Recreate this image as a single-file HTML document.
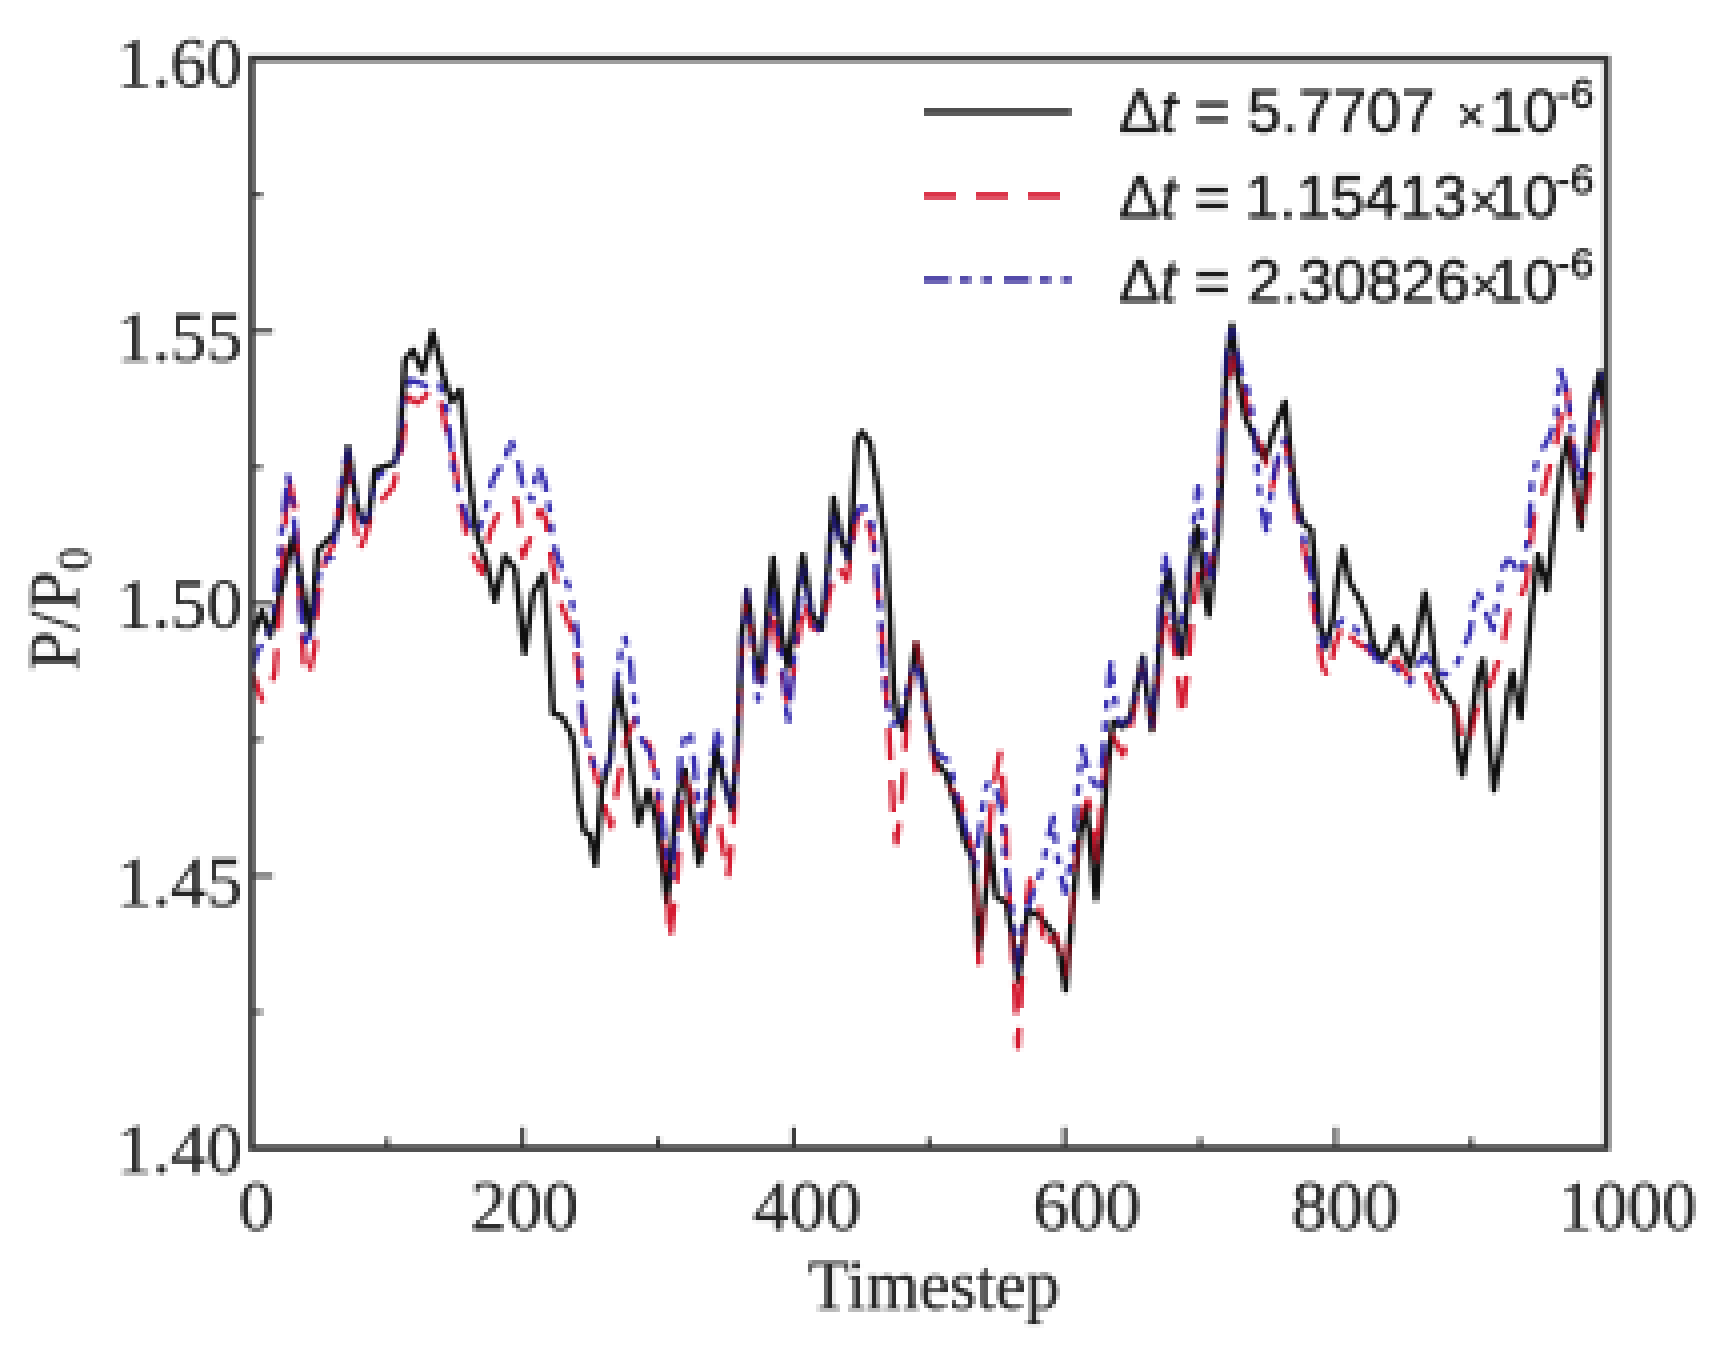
<!DOCTYPE html>
<html lang="en"><head><meta charset="utf-8"><title>P/P0 versus Timestep</title>
<style>
html,body{margin:0;padding:0;background:#fff;}
body{width:1724px;height:1348px;overflow:hidden;}
svg{display:block;}
.ser{font-family:"Liberation Serif","Times New Roman",serif;fill:#262626;stroke:#262626;stroke-width:0.6;}
.san{font-family:"Liberation Sans",Arial,sans-serif;fill:#1c1c1c;stroke:#1c1c1c;stroke-width:0.9;}
.crv{fill:none;stroke-linejoin:round;stroke-linecap:butt;}
</style></head><body>
<svg width="1724" height="1348" viewBox="0 0 1724 1348">
<defs><filter id="soft" x="0" y="0" width="1724" height="1348" filterUnits="userSpaceOnUse" primitiveUnits="userSpaceOnUse" color-interpolation-filters="sRGB">
<feConvolveMatrix in="SourceGraphic" order="4" kernelMatrix="1 1 1 1 1 1 1 1 1 1 1 1 1 1 1 1" divisor="16" targetX="3" targetY="3" edgeMode="duplicate" preserveAlpha="false" result="b"/>
<feFlood x="0" y="0" width="1" height="4" flood-color="rgb(217,0,0)" result="c0"/>
<feFlood x="1" y="0" width="1" height="4" flood-color="rgb(185,0,0)" result="c1"/>
<feFlood x="2" y="0" width="1" height="4" flood-color="rgb(153,0,0)" result="c2"/>
<feFlood x="3" y="0" width="1" height="4" flood-color="rgb(121,0,0)" result="c3"/>
<feMerge x="0" y="0" width="4" height="4" result="cx"><feMergeNode in="c0"/><feMergeNode in="c1"/><feMergeNode in="c2"/><feMergeNode in="c3"/></feMerge>
<feFlood x="0" y="0" width="4" height="1" flood-color="rgb(0,217,0)" result="r0"/>
<feFlood x="0" y="1" width="4" height="1" flood-color="rgb(0,185,0)" result="r1"/>
<feFlood x="0" y="2" width="4" height="1" flood-color="rgb(0,153,0)" result="r2"/>
<feFlood x="0" y="3" width="4" height="1" flood-color="rgb(0,121,0)" result="r3"/>
<feMerge x="0" y="0" width="4" height="4" result="cy"><feMergeNode in="r0"/><feMergeNode in="r1"/><feMergeNode in="r2"/><feMergeNode in="r3"/></feMerge>
<feComposite in="cx" in2="cy" operator="arithmetic" k1="0" k2="1" k3="1" k4="0" x="0" y="0" width="4" height="4" result="cell"/>
<feTile in="cell" x="0" y="0" width="1724" height="1348" result="map"/>
<feDisplacementMap in="b" in2="map" scale="8" xChannelSelector="R" yChannelSelector="G"/>
</filter></defs>
<rect x="0" y="0" width="1724" height="1348" fill="#ffffff"/>
<g filter="url(#soft)">
<g class="crv">
<polyline stroke="#101010" stroke-width="5.8" points="252,637 262,611 270,636 277,607 293,537 302,585 310,632 318,550 335,533 341,518 348,447 357,505 362,520 368,522 375,470 395,463 400,440 405,360 413,350 423,372 432.5,332 443,375 451.5,401.5 460,390 466.5,457 476.5,533 486.5,563 495,601 505,556 515,569 524.5,653 533,593 543.5,574 548,633 553,713 562,717 571,733 574,745 579,800 584,831 590,835 595.5,865 602,787 610,760 618,683 628,740 638.5,824 648,790 656.5,820 663,868 667,902 671,860 677,800 685,770 692,820 699,864 708,813 716,748 724,782 732,810 738,740 741.5,640 747,590 755,650 761.5,681 767,617 773,558 781.5,633 788,667 796.5,600 803,555 811.5,613 821.5,629 828,567 833.5,498 841.5,540 848.5,560 853,500 857,440 862,432 870,443 877,483 885,543 890,618 893.5,686 897,716 903,729 910,684 916,643 923,680 930,727 935,760 946,774 957,808 965,842 973,860 977,920 979,950 986.5,885 988.5,835 996.5,897 1006.5,903 1013,940 1018,980 1028,910 1040,917 1053,933 1060,953 1065.5,990 1073,903 1080,833 1086.5,807 1096,899 1103,825 1108,765 1113,722 1123,727 1131,715 1138,681 1143,657 1148,700 1152,730 1158,670 1162,610 1166,580 1169.5,571 1173,600 1177,635 1181.5,656 1186,620 1190,570 1194,538 1197,527 1201,560 1205,595 1208.7,615 1214,570 1218,535 1221.7,475 1224,420 1227,360 1232,325 1238,377 1245,417 1256.5,443 1265,460 1273,433 1285,402 1290,450 1296.5,500 1303,523 1311.5,530 1316.5,583 1320,627 1326.5,647 1333,617 1338,577 1343,548 1350,583 1360,600 1366.5,617 1373,643 1383,660 1390,647 1396.5,627 1403,650 1410,667 1418,633 1425,593 1431.5,633 1436.5,677 1448,697 1455,707 1458,747 1462.5,775 1470,727 1478,677 1483,660 1488,727 1494,790 1501.5,747 1508,693 1512.5,672 1520.5,718 1526.5,660 1531.5,610 1538,555 1547,590 1553,535 1561.5,467 1568,437 1575,485 1581,528 1587,460 1593,400 1600,372 1606,430"/>
<polyline stroke="#d00820" stroke-opacity="0.92" stroke-width="5.6" stroke-dasharray="32 20" points="252,672 262,700 270,690 275,672 279,620 283,560 288,476 295,507 300,600 305,677 310,670 315,647 318,593 325,560 333,545 340,500 347,460 353,513 359,552 365,537 372,513 382,500 393,487 400,460 404,430 408,397 417,403 424,398 430,390 440,397 447,433 452,447 460,500 468,543 475,560 482,573 490,532 500,510 508,500 517,500 523,557 532,533 540,510 546,520 552,563 562,607 573,633 578,667 582,710 586,740 590,753 597,780 603,800 611,827 618,783 626,740 634,720 642,735 650,747 657,790 663,837 668,903 670,940 676.5,887 680,837 683.5,777 690,790 697,830 704,850 712,800 720,828 728,877 733,830 738,745 742,650 747,592 755,667 761.5,683 767,640 772,607 780,660 788,710 796.5,650 804,600 811.5,627 821.5,632 830,590 836.5,567 842,572 847,580 852,545 857,517 863,507 873,540 877,583 882,633 886,690 890,750 893,808 896.5,843 901.5,800 905,750 908,700 916,643 923,683 930,730 937,780 948,785 960,800 967,830 973,853 977,913 979,963 983,920 987,870 990,820 995,780 1000,753 1005,807 1007,870 1013,953 1016,1010 1018,1047 1020,1010 1023,953 1027,900 1030,880 1035,895 1040,910 1045,950 1050,940 1056,935 1062,960 1066,975 1070,930 1077,853 1083,810 1088,800 1093,820 1097,860 1102,800 1107,753 1112,735 1123,755 1130,730 1138,690 1143,665 1148,700 1153,727 1158,680 1163,630 1168,610 1173,640 1177,665 1182,718 1187,675 1192,620 1200,560 1207,575 1213,557 1218,510 1222,450 1227,400 1233,357 1238,375 1243,383 1250,423 1257,440 1263,450 1272,488 1278,460 1285,440 1291,470 1297,517 1303,543 1310,580 1317,633 1323,667 1328,677 1335,645 1343,623 1350,635 1357,643 1367,648 1377,660 1387,665 1397,660 1407,675 1415,680 1425,670 1433,690 1440,707 1450,705 1455,705 1462,740 1468,745 1475,715 1483,690 1490,685 1497,665 1503,645 1510,605 1520,600 1527,580 1531,540 1535,510 1543,493 1550,465 1557,440 1562,410 1567,390 1572,450 1577,500 1583,522 1588,490 1593,460 1598,420 1603,400 1606,410"/>
<polyline stroke="#261ca8" stroke-opacity="0.92" stroke-width="5.6" stroke-dasharray="26 10 11 11 10 12" points="252,668 258,650 265,640 273,620 278,570 283,520 288,476 293,507 298,570 303,633 308,647 314,610 320,567 326,560 332,557 338,515 343,473 348,450 353,480 357,507 363,523 369,515 375,480 385,470 395,462 400,447 403,400 410,380 420,383 430,388 440,385 447,410 453,467 460,497 470,527 477,533 483,520 488,500 492,482 498,470 505,463 510,438 517,457 523,487 532,500 538,465 545,483 550,513 553,543 563,573 570,590 577,633 580,667 582,717 585,733 590,750 596,772 603,775 610,760 614,720 617,680 621,650 625,638 630,660 633,690 637,725 643,742 650,752 656,771 661,810 666,850 672,877 677,820 681,750 686,735 690,730 694,760 699,810 703,835 708,790 712,760 718,728 723,770 728,795 732,810 736,770 739,700 742,640 747,590 752,640 758,700 763,680 768,620 772,587 777,620 783,665 788,725 793,670 798,610 803,565 808,595 813,622 821,632 827,580 833,517 841,540 848,557 854,520 860,508 865,507 873,527 877,577 880,610 882,650 885,690 892,725 900,720 907,690 915,660 921,680 927,715 933,750 942,757 950,762 957,800 963,820 970,847 975,870 980,830 985,790 990,780 996,790 1002,810 1005,860 1009,890 1013,920 1018,970 1022,930 1027,910 1034,890 1042,870 1048,840 1053,817 1058,860 1065,893 1069,870 1073,853 1077,800 1082,747 1090,777 1100,793 1104,740 1108,690 1111,663 1115,700 1120,725 1130,720 1137,685 1143,660 1148,700 1152,725 1157,670 1161,600 1165,553 1170,590 1174,625 1178,647 1184,610 1190,560 1195,510 1198,487 1202,520 1207,560 1212,583 1217,530 1222,430 1227,350 1232,323 1238,360 1244,380 1250,397 1255,440 1260,497 1264,520 1267,533 1270,500 1274,475 1278,457 1285,440 1290,470 1293,493 1300,520 1305,545 1310,567 1316,610 1323,647 1330,635 1337,625 1343,620 1355,628 1365,640 1377,660 1390,662 1403,677 1410,683 1418,665 1425,655 1435,670 1445,675 1455,668 1463,650 1470,633 1474,605 1477,590 1482,600 1487,615 1493,630 1498,600 1503,567 1508,560 1513,563 1520,575 1525,560 1530,517 1532,477 1540,453 1548,440 1556,420 1560,370 1565,385 1568,400 1572,430 1576,460 1580,480 1585,460 1590,430 1595,400 1598,383 1602,375 1606,390"/>
<polyline stroke="#101010" stroke-opacity="0.42" stroke-width="5.8" points="252,637 262,611 270,636 277,607 293,537 302,585 310,632 318,550 335,533 341,518 348,447 357,505 362,520 368,522 375,470 395,463 400,440 405,360 413,350 423,372 432.5,332 443,375 451.5,401.5 460,390 466.5,457 476.5,533 486.5,563 495,601 505,556 515,569 524.5,653 533,593 543.5,574 548,633 553,713 562,717 571,733 574,745 579,800 584,831 590,835 595.5,865 602,787 610,760 618,683 628,740 638.5,824 648,790 656.5,820 663,868 667,902 671,860 677,800 685,770 692,820 699,864 708,813 716,748 724,782 732,810 738,740 741.5,640 747,590 755,650 761.5,681 767,617 773,558 781.5,633 788,667 796.5,600 803,555 811.5,613 821.5,629 828,567 833.5,498 841.5,540 848.5,560 853,500 857,440 862,432 870,443 877,483 885,543 890,618 893.5,686 897,716 903,729 910,684 916,643 923,680 930,727 935,760 946,774 957,808 965,842 973,860 977,920 979,950 986.5,885 988.5,835 996.5,897 1006.5,903 1013,940 1018,980 1028,910 1040,917 1053,933 1060,953 1065.5,990 1073,903 1080,833 1086.5,807 1096,899 1103,825 1108,765 1113,722 1123,727 1131,715 1138,681 1143,657 1148,700 1152,730 1158,670 1162,610 1166,580 1169.5,571 1173,600 1177,635 1181.5,656 1186,620 1190,570 1194,538 1197,527 1201,560 1205,595 1208.7,615 1214,570 1218,535 1221.7,475 1224,420 1227,360 1232,325 1238,377 1245,417 1256.5,443 1265,460 1273,433 1285,402 1290,450 1296.5,500 1303,523 1311.5,530 1316.5,583 1320,627 1326.5,647 1333,617 1338,577 1343,548 1350,583 1360,600 1366.5,617 1373,643 1383,660 1390,647 1396.5,627 1403,650 1410,667 1418,633 1425,593 1431.5,633 1436.5,677 1448,697 1455,707 1458,747 1462.5,775 1470,727 1478,677 1483,660 1488,727 1494,790 1501.5,747 1508,693 1512.5,672 1520.5,718 1526.5,660 1531.5,610 1538,555 1547,590 1553,535 1561.5,467 1568,437 1575,485 1581,528 1587,460 1593,400 1600,372 1606,430"/>
</g>
<g fill="none" stroke="#333333">
<rect x="251.7" y="58.7" width="1355" height="1089.5" stroke-width="6.4"/>
<path d="M251.7 58.7h21M251.7 194.888h11M251.7 331.075h21M251.7 467.263h11M251.7 603.45h21M251.7 739.638h11M251.7 875.825h21M251.7 1012.01h11M251.7 1148.2h21M251.7 1148.2v-21M387.2 1148.2v-11M522.7 1148.2v-21M658.2 1148.2v-11M793.7 1148.2v-21M929.2 1148.2v-11M1064.7 1148.2v-21M1200.2 1148.2v-11M1335.7 1148.2v-21M1471.2 1148.2v-11M1606.7 1148.2v-21" stroke-width="4.2"/>
</g>
<text class="ser" x="242.5" y="87" font-size="72" text-anchor="end">1.60</text>
<text class="ser" x="242.5" y="361" font-size="72" text-anchor="end">1.55</text>
<text class="ser" x="242.5" y="628" font-size="72" text-anchor="end">1.50</text>
<text class="ser" x="242.5" y="906" font-size="72" text-anchor="end">1.45</text>
<text class="ser" x="242.5" y="1173" font-size="72" text-anchor="end">1.40</text>
<text class="ser" x="256.5" y="1230" font-size="72" text-anchor="middle">0</text>
<text class="ser" x="524.5" y="1230" font-size="72" text-anchor="middle">200</text>
<text class="ser" x="807.25" y="1230" font-size="72" text-anchor="middle">400</text>
<text class="ser" x="1087" y="1230" font-size="72" text-anchor="middle">600</text>
<text class="ser" x="1345.5" y="1230" font-size="72" text-anchor="middle">800</text>
<text class="ser" x="1558.5" y="1230" font-size="72" textLength="138" lengthAdjust="spacingAndGlyphs">1000</text>
<text class="ser" x="808" y="1309" font-size="72" textLength="252" lengthAdjust="spacingAndGlyphs">Timestep</text>
<text class="ser" transform="translate(78 671) rotate(-90)" font-size="72">P/P<tspan font-size="47" dy="12">0</tspan></text>
<g class="crv">
<path d="M924 111.8H1071.5" stroke="#262626" stroke-width="6.2"/>
<path d="M924 195.7H1071.5" stroke="#d2051f" stroke-width="6" stroke-dasharray="32 20"/>
<path d="M924 279.7H1071.5" stroke="#2c2196" stroke-width="6" stroke-dasharray="26 10 11 11 10 12"/>
</g>
<text class="san" x="1119" y="132" font-size="61.5" xml:space="preserve">Δ<tspan font-style="italic">t</tspan> =<tspan dx="0"> 5.7707 </tspan><tspan font-size="50" dx="4">×</tspan><tspan dx="3.8">10</tspan><tspan dx="-1.9" dy="-24" font-size="43">-6</tspan></text>
<text class="san" x="1119" y="217.5" font-size="61.5" xml:space="preserve">Δ<tspan font-style="italic">t</tspan> =<tspan dx="-2.3"> 1.15413</tspan><tspan font-size="50" dx="2.1">×</tspan><tspan dx="-9.1">10</tspan><tspan dx="-1.9" dy="-24" font-size="43">-6</tspan></text>
<text class="san" x="1119" y="302" font-size="61.5" xml:space="preserve">Δ<tspan font-style="italic">t</tspan> =<tspan dx="0"> 2.30826</tspan><tspan font-size="50" dx="0.8">×</tspan><tspan dx="-10.1">10</tspan><tspan dx="-1.9" dy="-24" font-size="43">-6</tspan></text>
</g>
</svg>
</body></html>
